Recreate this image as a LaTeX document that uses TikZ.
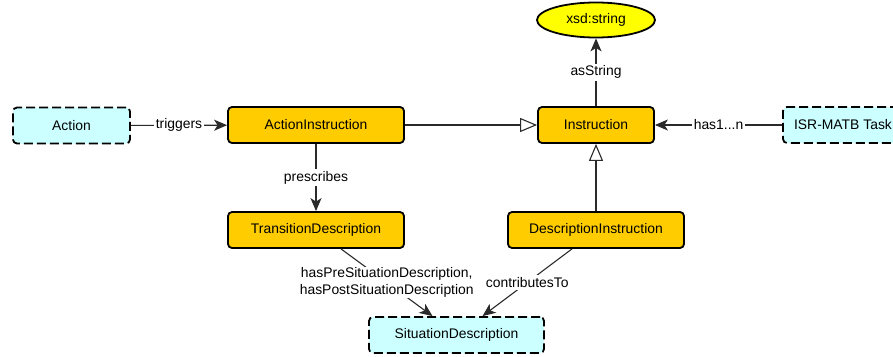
\documentclass[tikz,border=0pt]{standalone}
\usepackage{fontspec}
\setmainfont{Liberation Sans}
\usetikzlibrary{arrows.meta,shapes.geometric,calc}
\definecolor{cls}{HTML}{FFCC00}
\definecolor{ext}{HTML}{CCFFFF}
\definecolor{lit}{HTML}{FFFF00}
\definecolor{edge}{HTML}{2A2A2A}
\begin{document}
\begin{tikzpicture}[x=1pt,y=-1pt,
  every node/.style={font=\fontsize{13.9}{16.5}\selectfont},
  clsbox/.style={draw=black,line width=1.8pt,rounded corners=4pt,fill=cls,minimum width=176pt,minimum height=36pt,inner sep=0pt},
  extbox/.style={draw=black,line width=1.8pt,rounded corners=4pt,fill=ext,minimum height=36pt,inner sep=0pt,dash pattern=on 9pt off 4pt},
  litnode/.style={draw=black,line width=1.8pt,ellipse,fill=lit,minimum width=118pt,minimum height=35pt,inner sep=0pt},
  rel/.style={draw=edge,line width=1.1pt,-{Stealth[length=13pt,width=11pt,inset=3.5pt]}},
  isa/.style={draw=edge,line width=1.1pt,-{Triangle[open,length=17pt,width=14pt,fill=white]}},
  lbl/.style={fill=white,inner sep=2pt,text=black}]
\useasboundingbox (0,0) rectangle (893,356);
\node[extbox,minimum width=117pt] (act) at (71.5,125.5) {Action};
\node[clsbox] (ai) at (316,125) {ActionInstruction};
\node[clsbox,minimum width=116pt] (ins) at (596,125) {Instruction};
\node[extbox,minimum width=120pt] (isr) at (843,125) {ISR-MATB Task};
\node[litnode] (xsd) at (596,20) {xsd:string};
\node[clsbox] (td) at (316,230) {TransitionDescription};
\node[clsbox] (di) at (596,230) {DescriptionInstruction};
\node[extbox,minimum width=175pt] (sd) at (456.5,335) {SituationDescription};

\draw[rel] (act) -- node[lbl] {triggers} (ai);
\draw[isa] (ai) -- (ins);
\draw[rel] (isr) -- node[lbl] {has1...n} (ins);
\draw[rel] (ins) -- node[lbl] {asString} (xsd);
\draw[rel] (ai) -- node[lbl] {prescribes} (td);
\draw[isa] (di) -- (ins);
\draw[rel] ([xshift=25pt]td.south) -- node[lbl,align=center,inner sep=1pt] {hasPreSituationDescription,\\hasPostSituationDescription} ([xshift=-24pt]sd.north);
\draw[rel] ([xshift=-24pt]di.south) -- node[lbl] {contributesTo} ([xshift=26pt]sd.north);
\end{tikzpicture}
\end{document}
